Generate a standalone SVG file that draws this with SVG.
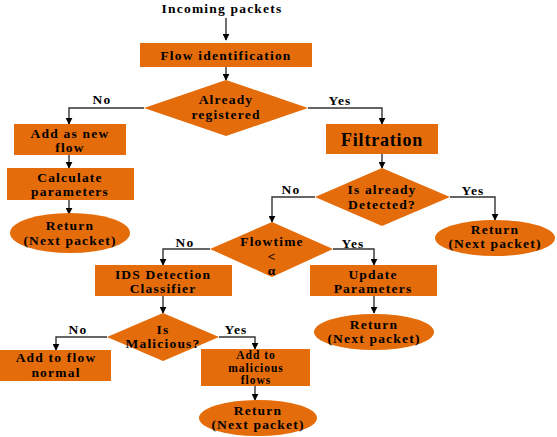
<svg xmlns="http://www.w3.org/2000/svg" width="557" height="437" viewBox="0 0 557 437">
<defs>
<marker id="ah" viewBox="0 0 10 10" refX="9" refY="5" markerWidth="7" markerHeight="7" markerUnits="userSpaceOnUse" orient="auto">
<path d="M0,0 L10,5 L0,10 z" fill="#000"/>
</marker>
<style>
.n{fill:#E46C0A;stroke:none}
.t{font-family:"Liberation Serif","Times New Roman",serif;font-weight:bold;font-size:13.5px;letter-spacing:1.2px;fill:#000;text-anchor:middle}
.big{font-size:18px;letter-spacing:0.8px}
.sm{font-size:11.5px;letter-spacing:1px}
.c{fill:none;stroke:#333;stroke-width:1.4;marker-end:url(#ah)}
</style>
</defs>
<rect width="557" height="437" fill="#fff"/>
<text class="t" x="222" y="13">Incoming packets</text>
<g id="connectors">
<path class="c" d="M226,18 V40"/>
<path class="c" d="M226,67 V80"/>
<path class="c" d="M144,108 H69 V124"/>
<path class="c" d="M308,108 H382 V124"/>
<path class="c" d="M69,155 V168"/>
<path class="c" d="M69,200 V214"/>
<path class="c" d="M382,154 V168"/>
<path class="c" d="M315,197 H272 V222"/>
<path class="c" d="M450,197 H495 V220"/>
<path class="c" d="M210,249 H163 V265"/>
<path class="c" d="M333,249 H374 V265"/>
<path class="c" d="M374,296 V313"/>
<path class="c" d="M163,296 V313"/>
<path class="c" d="M107,337 H56 V350"/>
<path class="c" d="M219,337 H255 V349"/>
<path class="c" d="M255,386 V400"/>
<text class="t" x="102" y="104">No</text>
<text class="t" x="340" y="105">Yes</text>
<text class="t" x="291" y="194">No</text>
<text class="t" x="473" y="195">Yes</text>
<text class="t" x="185" y="247">No</text>
<text class="t" x="353" y="248">Yes</text>
<text class="t" x="78" y="334">No</text>
<text class="t" x="236" y="334">Yes</text>
</g>
<g id="flowid">
<rect class="n" x="140" y="43" width="172" height="24"/>
<text class="t" x="226" y="60">Flow identification</text>
</g>
<g id="registered">
<polygon class="n" points="226,80 308,108 226,136 144,108"/>
<text class="t" x="226" y="104">Already</text>
<text class="t" x="226" y="119">registered</text>
</g>
<g id="addnew">
<rect class="n" x="14" y="124" width="112" height="31"/>
<text class="t" x="70" y="138">Add as new</text>
<text class="t" x="70" y="152">flow</text>
</g>
<g id="calc">
<rect class="n" x="7" y="168" width="127" height="32"/>
<text class="t" x="70" y="182">Calculate</text>
<text class="t" x="70" y="196">parameters</text>
</g>
<g id="return1">
<ellipse class="n" cx="70" cy="233" rx="60" ry="20"/>
<text class="t" x="70" y="230">Return</text>
<text class="t" x="70" y="245">(Next packet)</text>
</g>
<g id="filtration">
<rect class="n" x="326" y="124" width="112" height="30"/>
<text class="t big" x="382" y="146">Filtration</text>
</g>
<g id="detected">
<polygon class="n" points="382,168 450,197 382,226 315,197"/>
<text class="t" x="382" y="194">Is already</text>
<text class="t" x="382" y="209">Detected?</text>
</g>
<g id="return2">
<ellipse class="n" cx="495" cy="238" rx="60" ry="18"/>
<text class="t" x="495" y="234">Return</text>
<text class="t" x="495" y="248">(Next packet)</text>
</g>
<g id="flowtime">
<polygon class="n" points="272,222 333,249 272,277 210,249"/>
<text class="t" x="272" y="246">Flowtime</text>
<text class="t" x="272" y="261">&lt;</text>
<text class="t" x="272" y="275">α</text>
</g>
<g id="ids">
<rect class="n" x="95" y="265" width="137" height="31"/>
<text class="t" x="163" y="279">IDS Detection</text>
<text class="t" x="163" y="293">Classifier</text>
</g>
<g id="update">
<rect class="n" x="310" y="265" width="127" height="31"/>
<text class="t" x="373" y="279">Update</text>
<text class="t" x="373" y="293">Parameters</text>
</g>
<g id="return3">
<ellipse class="n" cx="374" cy="332" rx="60" ry="18"/>
<text class="t" x="374" y="329">Return</text>
<text class="t" x="374" y="343">(Next packet)</text>
</g>
<g id="malicious">
<polygon class="n" points="163,313 219,337 163,361 107,337"/>
<text class="t" x="163" y="334">Is</text>
<text class="t" x="163" y="348">Malicious?</text>
</g>
<g id="normal">
<rect class="n" x="0" y="350" width="111" height="31"/>
<text class="t" x="56" y="362">Add to flow</text>
<text class="t" x="56" y="377">normal</text>
</g>
<g id="addmal">
<rect class="n" x="201" y="349" width="109" height="37"/>
<text class="t sm" x="256" y="359">Add to</text>
<text class="t sm" x="256" y="371.5">malicious</text>
<text class="t sm" x="256" y="384">flows</text>
</g>
<g id="return4">
<ellipse class="n" cx="258" cy="418" rx="59" ry="18"/>
<text class="t" x="258" y="415">Return</text>
<text class="t" x="258" y="429">(Next packet)</text>
</g>
</svg>
